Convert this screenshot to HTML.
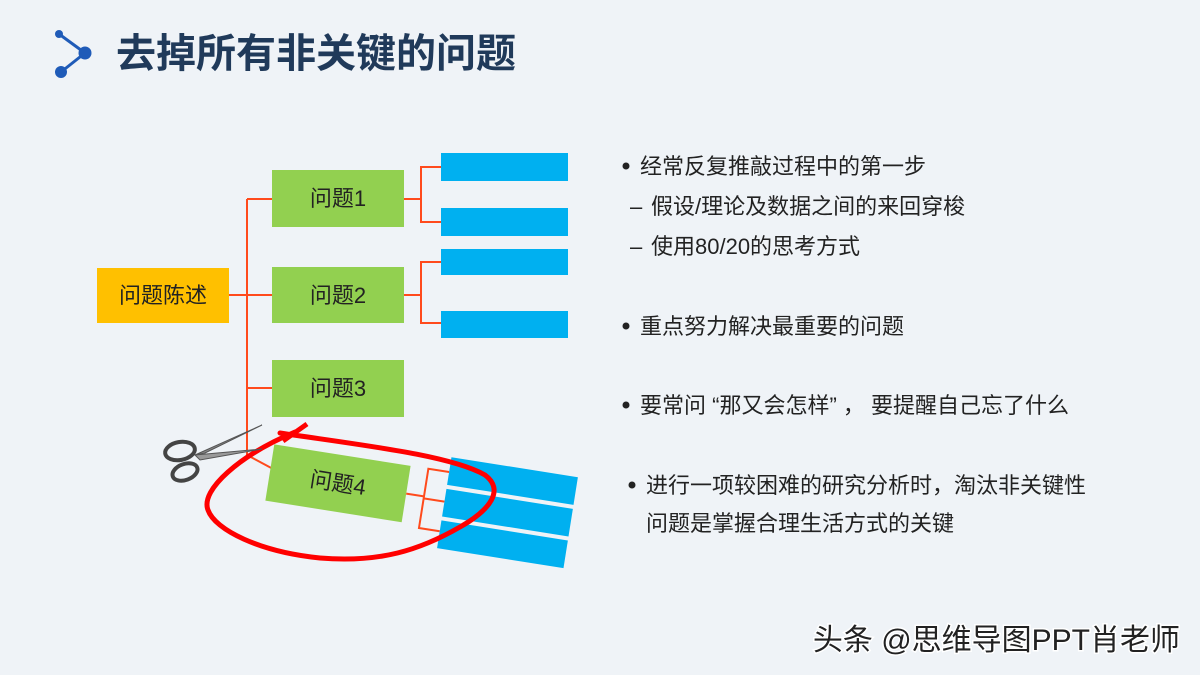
<!DOCTYPE html>
<html><head><meta charset="utf-8"><style>
html,body{margin:0;padding:0;background:#eff3f7;}
svg{display:block;}
text{font-family:"Liberation Sans","Noto Sans CJK SC",sans-serif;}
</style></head><body>
<svg width="1200" height="675" viewBox="0 0 1200 675" xmlns="http://www.w3.org/2000/svg">
<rect width="1200" height="675" fill="#eff3f7"/>
<line x1="59" y1="34" x2="85" y2="53" stroke="#1f5bb8" stroke-width="3"/>
<line x1="85" y1="53" x2="61" y2="72" stroke="#1f5bb8" stroke-width="3"/>
<circle cx="59" cy="34" r="4" fill="#1f5bb8"/>
<circle cx="85" cy="53" r="6.5" fill="#1f5bb8"/>
<circle cx="61" cy="72" r="6" fill="#1f5bb8"/>
<text x="116" y="67" font-size="40" font-weight="bold" fill="#203a5a">去掉所有非关键的问题</text>

<g stroke="#ff4a1c" stroke-width="2" fill="none">
<line x1="229" y1="295" x2="247" y2="295"/>
<line x1="247" y1="199" x2="247" y2="455"/>
<line x1="247" y1="199" x2="272" y2="199"/>
<line x1="247" y1="295" x2="272" y2="295"/>
<line x1="247" y1="388" x2="272" y2="388"/>
<line x1="247" y1="455" x2="275" y2="470"/>
<line x1="404" y1="199" x2="421" y2="199"/>
<polyline points="441,167 421,167 421,222 441,222"/>
<line x1="404" y1="295" x2="421" y2="295"/>
<polyline points="441,262 421,262 421,323 441,323"/>
</g>
<rect x="97" y="268" width="132" height="55" fill="#ffc000"/>
<text x="163" y="303" font-size="22" text-anchor="middle" fill="#222">问题陈述</text>
<rect x="272" y="170" width="132" height="57" fill="#92d050"/>
<text x="338" y="206" font-size="22" text-anchor="middle" fill="#222">问题1</text>
<rect x="272" y="267" width="132" height="56" fill="#92d050"/>
<text x="338" y="303" font-size="22" text-anchor="middle" fill="#222">问题2</text>
<rect x="272" y="360" width="132" height="57" fill="#92d050"/>
<text x="338" y="396" font-size="22" text-anchor="middle" fill="#222">问题3</text>
<rect x="441" y="153" width="127" height="28" fill="#00b0f0"/>
<rect x="441" y="208" width="127" height="28" fill="#00b0f0"/>
<rect x="441" y="249" width="127" height="26" fill="#00b0f0"/>
<rect x="441" y="311" width="127" height="27" fill="#00b0f0"/>

<g transform="rotate(9 272 446)">
<rect x="274" y="444" width="138" height="57" fill="#92d050"/>
<text x="343" y="480" font-size="22" text-anchor="middle" fill="#222">问题4</text>
<g stroke="#ff4a1c" stroke-width="2" fill="none">
<line x1="412" y1="472" x2="430" y2="472"/>
<polyline points="451,444 430,444 430,504 451,504"/>
<line x1="430" y1="474" x2="451" y2="474"/>
</g>
<rect x="451" y="429" width="128" height="28" fill="#00b0f0"/>
<rect x="451" y="461" width="128" height="28" fill="#00b0f0"/>
<rect x="451" y="493" width="128" height="28" fill="#00b0f0"/>
</g>

<path d="M280,433 C360,445 450,455 485,475 C505,490 490,510 460,527 C420,550 380,563 320,558 C260,552 215,530 208,510 C200,490 240,455 295,432" fill="none" stroke="#ff0000" stroke-width="5" stroke-linecap="round"/>
<line x1="283" y1="441" x2="307" y2="424" stroke="#ff0000" stroke-width="5"/>

<polygon points="195,455 262,425 205,453" fill="#888" stroke="#555" stroke-width="1"/>
<polygon points="195,455 262,449 200,460" fill="#999" stroke="#555" stroke-width="1"/>
<ellipse cx="180" cy="451" rx="15" ry="9" fill="none" stroke="#444" stroke-width="4" transform="rotate(-10 180 451)"/>
<ellipse cx="185" cy="472" rx="13" ry="8" fill="none" stroke="#444" stroke-width="4" transform="rotate(-20 185 472)"/>

<g font-size="22" fill="#222">
<circle cx="626" cy="166" r="3.5" fill="#222"/>
<text x="640" y="174">经常反复推敲过程中的第一步</text>
<text x="630" y="214">–</text>
<text x="651" y="214">假设/理论及数据之间的来回穿梭</text>
<text x="630" y="254">–</text>
<text x="651" y="254">使用80/20的思考方式</text>
<circle cx="626" cy="326" r="3.5" fill="#222"/>
<text x="640" y="334">重点努力解决最重要的问题</text>
<circle cx="626" cy="405" r="3.5" fill="#222"/>
<text x="640" y="413">要常问 “那又会怎样” ， 要提醒自己忘了什么</text>
<circle cx="632" cy="485" r="3.5" fill="#222"/>
<text x="646" y="493">进行一项较困难的研究分析时，淘汰非关键性</text>
<text x="646" y="531">问题是掌握合理生活方式的关键</text>
</g>

<text x="1180" y="650" font-size="30" text-anchor="end" fill="#222" stroke="#fff" stroke-width="3" paint-order="stroke">头条 @思维导图PPT肖老师</text>
</svg>
</body></html>
